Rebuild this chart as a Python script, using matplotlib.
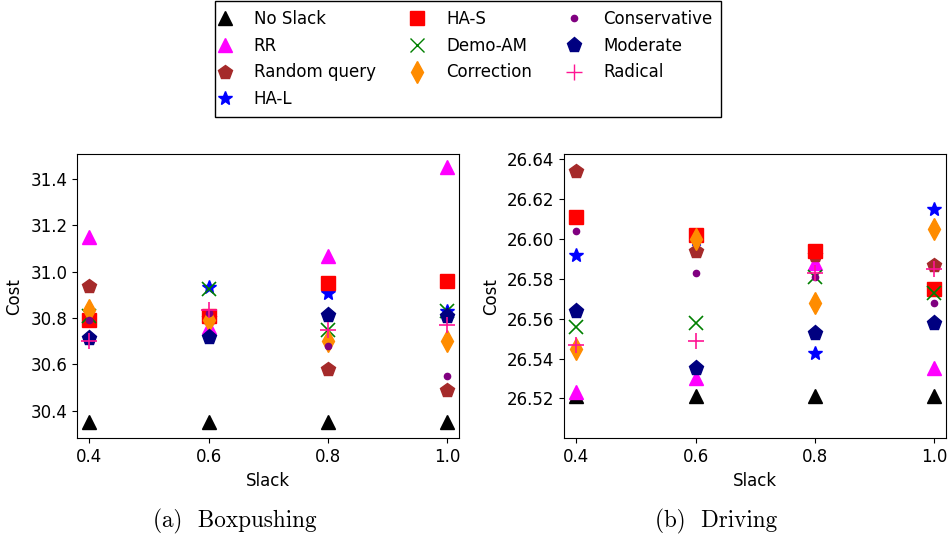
import matplotlib
matplotlib.use("Agg")
import matplotlib.pyplot as plt
from matplotlib.lines import Line2D

slack = [0.4, 0.6, 0.8, 1.0]

methods = ["No Slack", "RR", "Random query", "HA-L", "HA-S", "Demo-AM",
           "Correction", "Conservative", "Moderate", "Radical"]

# cost per method at each slack value
box_cost = {
    "No Slack":     [30.35, 30.35, 30.35, 30.35],
    "RR":           [31.15, 30.76, 31.07, 31.45],
    "Random query": [30.94, 30.80, 30.58, 30.49],
    "HA-L":         [30.80, 30.935, 30.91, 30.83],
    "HA-S":         [30.79, 30.81, 30.95, 30.96],
    "Demo-AM":      [30.81, 30.925, 30.75, 30.83],
    "Correction":   [30.835, 30.79, 30.70, 30.70],
    "Conservative": [30.79, 30.82, 30.68, 30.55],
    "Moderate":     [30.715, 30.72, 30.815, 30.81],
    "Radical":      [30.70, 30.835, 30.75, 30.77],
}
drive_cost = {
    "No Slack":     [26.521, 26.521, 26.521, 26.521],
    "RR":           [26.523, 26.530, 26.588, 26.535],
    "Random query": [26.634, 26.594, 26.592, 26.587],
    "HA-L":         [26.592, 26.600, 26.543, 26.615],
    "HA-S":         [26.611, 26.602, 26.594, 26.575],
    "Demo-AM":      [26.556, 26.558, 26.581, 26.573],
    "Correction":   [26.545, 26.600, 26.568, 26.605],
    "Conservative": [26.604, 26.583, 26.581, 26.568],
    "Moderate":     [26.564, 26.535, 26.553, 26.558],
    "Radical":      [26.547, 26.549, 26.583, 26.585],
}

STYLE = {
    "No Slack":     ("^", "black", 10),
    "RR":           ("^", "magenta", 10),
    "Random query": ("p", "brown", 10),
    "HA-L":         ("*", "blue", 10),
    "HA-S":         ("s", "red", 10),
    "Demo-AM":      ("x", "green", 10),
    "Correction":   ("d", "darkorange", 11),
    "Conservative": ("o", "purple", 4.5),
    "Moderate":     ("p", "navy", 11),
    "Radical":      ("+", "deeppink", 11),
}

FS = 12
plt.rcParams["font.size"] = FS

fig = plt.figure(figsize=(9.48, 5.39), dpi=100)
ax1 = fig.add_axes([0.0815, 0.1868, 0.403, 0.527])
ax2 = fig.add_axes([0.5953, 0.1868, 0.4026, 0.527])

for ax, data in [(ax1, box_cost), (ax2, drive_cost)]:
    for m in methods:
        mk, c, ms = STYLE[m]
        ax.plot(slack, data[m], linestyle="none", marker=mk, color=c,
                markersize=ms, markeredgewidth=1.2 if mk in "x+" else 1)
    ax.set_xlim(0.38, 1.02)
    ax.set_xticks(slack)
    ax.set_xticklabels(["0.4", "0.6", "0.8", "1.0"])
    ax.set_xlabel("Slack", fontsize=FS, labelpad=4)
    ax.set_ylabel("Cost", fontsize=FS, labelpad=5)
    ax.tick_params(labelsize=FS)

ax1.set_ylim(30.281, 31.507)
ax1.set_yticks([30.4, 30.6, 30.8, 31.0, 31.2, 31.4])
ax2.set_ylim(26.500, 26.6424)
ax2.set_yticks([26.52, 26.54, 26.56, 26.58, 26.60, 26.62, 26.64])
ax2.set_yticklabels(["26.52", "26.54", "26.56", "26.58", "26.60", "26.62", "26.64"])

fig.text(0.248, 0.032, "(a)  Boxpushing", family="cmr10", fontsize=16.7,
         ha="center", va="center")
fig.text(0.755, 0.032, "(b)  Driving", family="cmr10", fontsize=16.7,
         ha="center", va="center")

handles = [Line2D([], [], linestyle="none", marker=STYLE[m][0],
                  color=STYLE[m][1], markersize=STYLE[m][2]) for m in methods]
fig.legend(handles, methods, ncol=3, loc="upper center",
           bbox_to_anchor=(0.4937, 0.999), borderaxespad=0, fancybox=False,
           edgecolor="black", fontsize=FS, handlelength=0.1,
           handletextpad=1.69, columnspacing=2.45, borderpad=0.55,
           labelspacing=0.53, framealpha=1)

fig.savefig("out.png", dpi=100)
